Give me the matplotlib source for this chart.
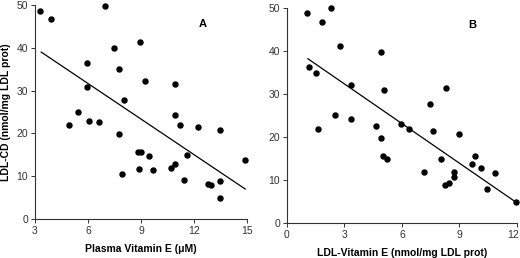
import matplotlib
matplotlib.use("Agg")
import matplotlib.pyplot as plt
import matplotlib.transforms as mtransforms

plt.rcParams['font.family'] = ['Liberation Sans', 'DejaVu Sans']

# panel A: plasma vitamin E vs LDL-CD
plasma_vitE = [3.3, 3.9, 6.95, 5.95, 5.95, 5.45, 4.95, 6.05, 6.65, 7.45, 7.75, 8.95,
               8.05, 9.2, 7.75, 7.95, 8.85, 9.0, 8.9, 9.45, 9.7, 10.95, 10.95, 11.2,
               12.2, 13.45, 10.7, 10.9, 11.6, 11.45, 12.8, 12.95, 13.45, 13.45, 14.9]
ldl_cd_a = [48.6, 46.7, 49.8, 36.5, 30.9, 25.1, 21.9, 23.0, 22.7, 39.9, 35.0, 41.4,
            27.7, 32.2, 19.8, 10.5, 15.6, 15.6, 11.6, 14.8, 11.5, 31.5, 24.2, 21.9,
            21.5, 20.7, 12.0, 12.8, 14.9, 9.2, 8.1, 7.9, 8.8, 4.8, 13.8]
fit_a_x = [3.35, 14.9]
fit_a_y = [39.0, 7.0]

# panel B: LDL vitamin E vs LDL-CD
ldl_vitE = [1.06, 2.29, 1.85, 2.79, 1.15, 1.5, 3.35, 4.9, 5.08, 1.64, 2.49, 3.35,
            4.62, 5.94, 6.35, 4.92, 5.03, 5.22, 7.48, 8.29, 7.6, 8.96, 7.16, 8.06,
            8.25, 8.43, 8.7, 8.73, 9.65, 9.8, 10.12, 10.46, 10.85, 11.96]
ldl_cd_b = [48.8, 49.9, 46.8, 41.2, 36.3, 34.8, 32.2, 39.8, 30.9, 21.8, 25.0, 24.1,
            22.6, 23.0, 21.8, 19.7, 15.6, 14.8, 27.7, 31.4, 21.5, 20.6, 11.9, 14.8,
            8.8, 9.2, 10.6, 11.8, 13.8, 15.6, 12.8, 8.0, 11.6, 4.8]
fit_b_x = [1.09, 11.96]
fit_b_y = [38.2, 4.8]

fig = plt.figure(figsize=(5.2, 2.58), dpi=100)
axA = fig.add_axes([0.0673, 0.1512, 0.4077, 0.8295])
axB = fig.add_axes([0.5519, 0.1357, 0.4423, 0.8333])


def style(ax, xticks):
    ax.set_ylim(0, 50)
    ax.set_xlim(xticks[0], xticks[-1])
    ax.set_xticks(xticks)
    ax.set_yticks([0, 10, 20, 30, 40, 50])
    for s in ['top', 'right']:
        ax.spines[s].set_visible(False)
    for s in ['left', 'bottom']:
        ax.spines[s].set_linewidth(0.8)
        ax.spines[s].set_color('#333333')
    ax.tick_params(length=3, width=0.7, labelsize=7.5, colors='#333333', pad=2)


axA.scatter(plasma_vitE, ldl_cd_a, s=13, color='black', clip_on=False, zorder=3)
axA.plot(fit_a_x, fit_a_y, color='black', lw=0.9)
style(axA, [3, 6, 9, 12, 15])
axA.text(12.47, 45.5, 'A', fontsize=8, fontweight='bold', ha='center', va='center')
axA.set_xlabel('Plasma Vitamin E (\u03bcM)', fontsize=7.5, fontweight='bold', labelpad=6)
axA.set_ylabel('LDL-CD (nmol/mg LDL prot)', fontsize=7.5, fontweight='bold', labelpad=4)

axB.scatter(ldl_vitE, ldl_cd_b, s=13, color='black', clip_on=False, zorder=3)
axB.plot(fit_b_x, fit_b_y, color='black', lw=0.9)
style(axB, [0, 3, 6, 9, 12])
axB.text(9.65, 46, 'B', fontsize=8, fontweight='bold', ha='center', va='center')
axB.set_xlabel('LDL-Vitamin E (nmol/mg LDL prot)', fontsize=7.5, fontweight='bold', labelpad=6)

# keep the last tick label of panel B inside the figure
last = axB.get_xticklabels()[-1]
last.set_transform(last.get_transform() +
                   mtransforms.ScaledTranslation(-4 / 100, 0, fig.dpi_scale_trans))

fig.savefig('out.png', dpi=100)
